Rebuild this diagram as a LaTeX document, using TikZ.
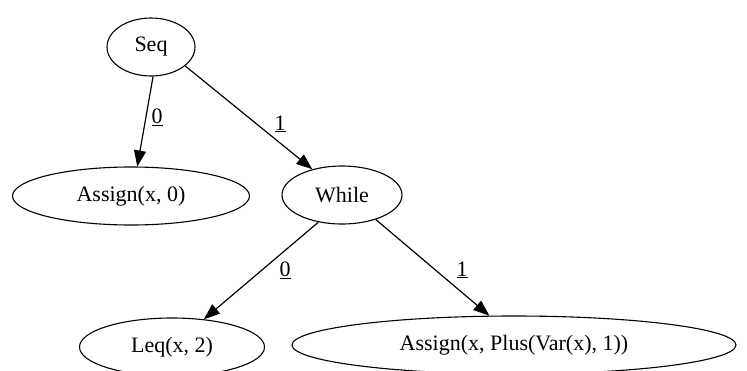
\documentclass[tikz,border=0pt]{standalone}
\usepackage{fontspec}
\setmainfont{Liberation Serif}
\usetikzlibrary{shapes.geometric,arrows.meta}
\begin{document}
\begin{tikzpicture}[x=1pt,y=-1pt,
    noeud/.style={draw, ellipse, line width=1.1pt, inner sep=0pt, minimum height=58pt, font=\fontsize{22}{26}\selectfont},
    arete/.style={draw, line width=1.2pt, -{Triangle[length=16pt,width=12pt]}},
    etiq/.style={font=\fontsize{22}{26}\selectfont, inner sep=1pt}]
    \clip (0,0) rectangle (747,370);
    %noeuds
    \node[noeud, minimum width=88pt] (seq) at (151,47) {Seq};
    \node[noeud, minimum width=237pt] (assignA) at (131,196) {Assign(x, 0)};
    \node[noeud, minimum width=120pt] (while) at (342,195) {While};
    \node[noeud, minimum width=185pt] (leq) at (172,347) {Leq(x, 2)};
    \node[noeud, minimum width=444pt] (assignB) at (514,345) {Assign(x, Plus(Var(x), 1))};
    %aretes
    \draw[arete] (seq.-86) -- (assignA.78);
    \draw[arete] (seq.-29) -- (while.139);
    \draw[arete] (while.-131) -- (leq.41);
    \draw[arete] (while.-36) -- (assignB.130);
    %etiquettes
    \node[etiq] (eA) at (157,117) {\underline{0}};
    \node[etiq] (eB) at (280,124) {\underline{1}};
    \node[etiq] (eC) at (285,270) {\underline{0}};
    \node[etiq] (eD) at (462,270) {\underline{1}};
\end{tikzpicture}
\end{document}
